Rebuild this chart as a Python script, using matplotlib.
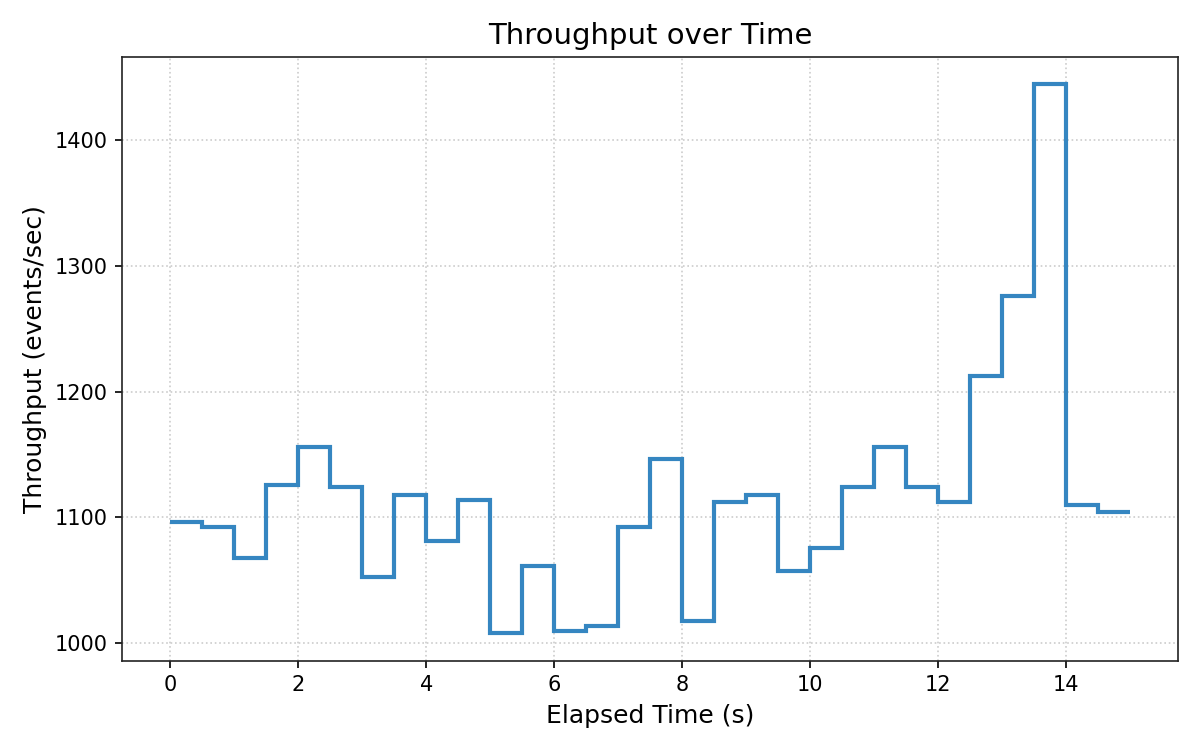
import numpy as np
import matplotlib
matplotlib.use('Agg')
import matplotlib.pyplot as plt

# throughput per 0.5 s bin
bin_edges = np.arange(0, 15.5, 0.5)
throughput = [1096, 1092, 1068, 1126, 1156, 1124, 1053, 1118, 1081, 1114,
              1008, 1061, 1010, 1014, 1092, 1146, 1018, 1112, 1118, 1057,
              1076, 1124, 1156, 1124, 1112, 1212, 1276, 1444, 1110, 1104]

fig, ax = plt.subplots(figsize=(8, 5), dpi=150)
ax.stairs(throughput, bin_edges, baseline=None, color='#3586c1',
          linewidth=2, zorder=3)
ax.margins(x=0.05, y=0.05)

ax.set_title('Throughput over Time', fontsize=14)
ax.set_xlabel('Elapsed Time (s)', fontsize=12)
ax.set_ylabel('Throughput (events/sec)', fontsize=12)
ax.grid(True, linestyle=':', color='#cccccc', linewidth=0.8)
for s in ax.spines.values():
    s.set_color('#222222')

fig.tight_layout()
fig.savefig('out.png', dpi=150)
